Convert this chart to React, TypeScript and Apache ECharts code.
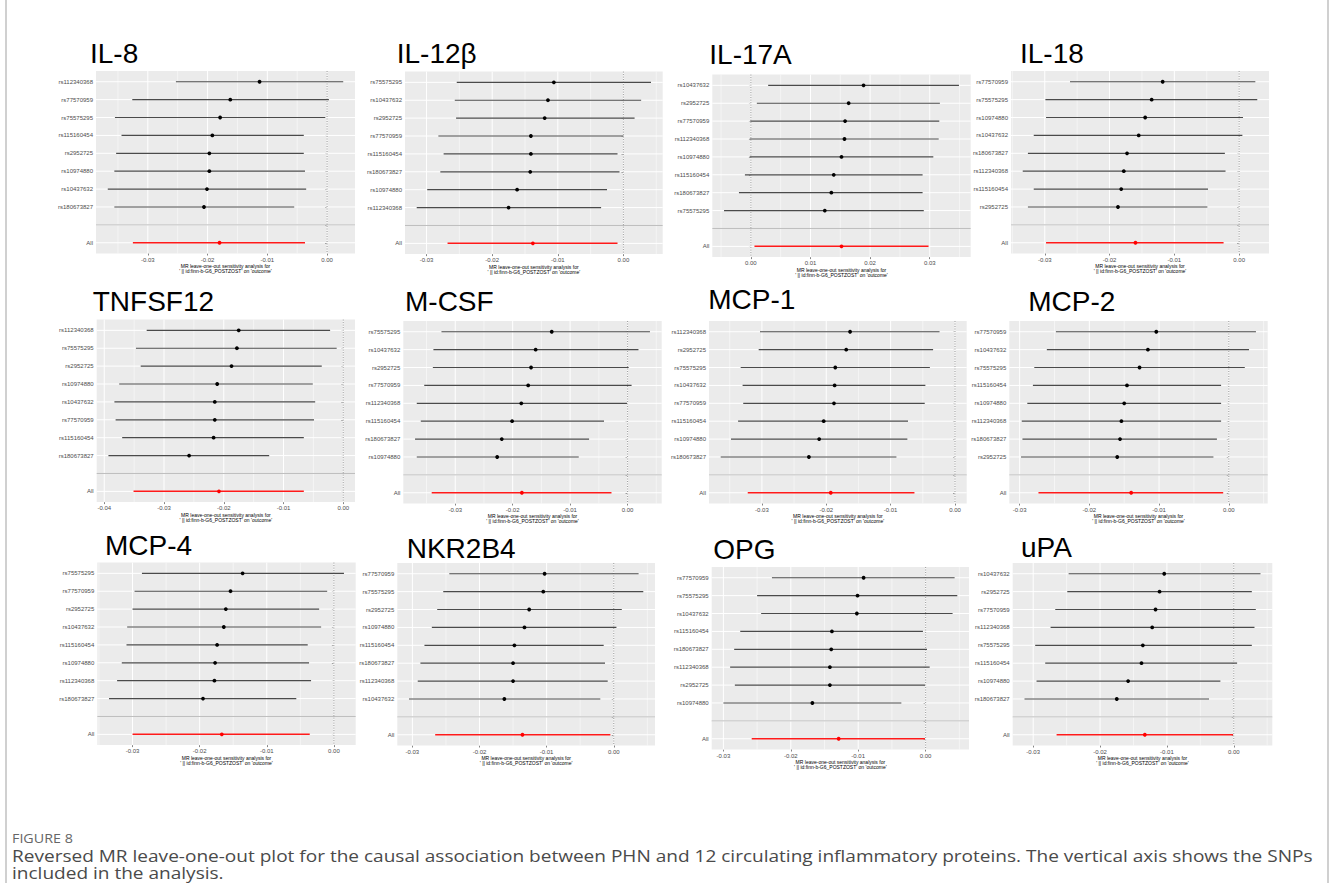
import React, { useEffect, useRef } from "react";
import * as echarts from "echarts";

// ---------------- DATA (rows listed top to bottom; last value = "All") ----------------
const IL8_SNP = ["rs112340368", "rs77570959", "rs75575295", "rs115160454", "rs2952725", "rs10974880", "rs10437632", "rs180673827"];
const IL8_LO = [-0.0253, -0.0326, -0.0355, -0.0344, -0.0353, -0.0356, -0.0367, -0.0356, -0.0325];
const IL8_B = [-0.0113, -0.0162, -0.0179, -0.0192, -0.0197, -0.0197, -0.0201, -0.0206, -0.018];
const IL8_HI = [0.0027, 0.0003, -0.0003, -0.0039, -0.0039, -0.0037, -0.0035, -0.0055, -0.0037];

const IL12_SNP = ["rs75575295", "rs10437632", "rs2952725", "rs77570959", "rs115160454", "rs180673827", "rs10974880", "rs112340368"];
const IL12_LO = [-0.0254, -0.0257, -0.0255, -0.0282, -0.0274, -0.0279, -0.0299, -0.0315, -0.0268];
const IL12_B = [-0.0106, -0.0115, -0.012, -0.0141, -0.0141, -0.0142, -0.0162, -0.0175, -0.0138];
const IL12_HI = [0.0042, 0.0027, 0.0017, 0.0, -0.0009, -0.0006, -0.0025, -0.0034, -0.0009];

const IL17_SNP = ["rs10437632", "rs2952725", "rs77570959", "rs112340368", "rs10974880", "rs115160454", "rs180673827", "rs75575295"];
const IL17_LO = [0.0029, 0.001, -0.0001, -0.0002, -0.0002, -0.001, -0.002, -0.0045, 0.0006];
const IL17_B = [0.0189, 0.0164, 0.0158, 0.0157, 0.0152, 0.0139, 0.0135, 0.0124, 0.0152];
const IL17_HI = [0.0349, 0.0317, 0.0316, 0.0315, 0.0306, 0.0288, 0.0288, 0.029, 0.0298];

const IL18_SNP = ["rs77570959", "rs75575295", "rs10974880", "rs10437632", "rs180673827", "rs112340368", "rs115160454", "rs2952725"];
const IL18_LO = [-0.0261, -0.0299, -0.0298, -0.0317, -0.0326, -0.0334, -0.0317, -0.0326, -0.0298];
const IL18_B = [-0.0118, -0.0135, -0.0145, -0.0155, -0.0173, -0.0178, -0.0182, -0.0187, -0.016];
const IL18_HI = [0.0025, 0.0028, 0.0006, 0.0005, -0.0022, -0.0021, -0.0048, -0.0049, -0.0024];

const TNF_SNP = ["rs112340368", "rs75575295", "rs2952725", "rs10974880", "rs10437632", "rs77570959", "rs115160454", "rs180673827"];
const TNF_LO = [-0.0329, -0.0347, -0.0339, -0.0375, -0.0383, -0.0381, -0.037, -0.0393, -0.0351];
const TNF_B = [-0.0175, -0.0178, -0.0187, -0.0211, -0.0215, -0.0215, -0.0217, -0.0258, -0.0208];
const TNF_HI = [-0.0022, -0.0011, -0.0036, -0.0051, -0.0047, -0.0049, -0.0066, -0.0124, -0.0066];

const MCSF_SNP = ["rs75575295", "rs10437632", "rs2952725", "rs77570959", "rs112340368", "rs115160454", "rs180673827", "rs10974880"];
const MCSF_LO = [-0.0324, -0.0338, -0.0339, -0.0354, -0.0367, -0.036, -0.037, -0.0367, -0.0341];
const MCSF_B = [-0.0132, -0.016, -0.0168, -0.0173, -0.0185, -0.0201, -0.0219, -0.0227, -0.0184];
const MCSF_HI = [0.0039, 0.0019, 0.0002, 0.0007, -0.0001, -0.0041, -0.0067, -0.0085, -0.0028];

const MCP1_SNP = ["rs112340368", "rs2952725", "rs75575295", "rs10437632", "rs77570959", "rs115160454", "rs10974880", "rs180673827"];
const MCP1_LO = [-0.0303, -0.0305, -0.0333, -0.033, -0.0329, -0.0337, -0.0348, -0.0364, -0.0322];
const MCP1_B = [-0.0163, -0.0169, -0.0186, -0.0187, -0.0188, -0.0204, -0.0211, -0.0227, -0.0193];
const MCP1_HI = [-0.0024, -0.0034, -0.0039, -0.0046, -0.0047, -0.0073, -0.0074, -0.0091, -0.0063];

const MCP2_SNP = ["rs77570959", "rs10437632", "rs75575295", "rs115160454", "rs10974880", "rs112340368", "rs180673827", "rs2952725"];
const MCP2_LO = [-0.0248, -0.0261, -0.0279, -0.0281, -0.0289, -0.0297, -0.0296, -0.0298, -0.0273];
const MCP2_B = [-0.0104, -0.0116, -0.0128, -0.0146, -0.015, -0.0154, -0.0156, -0.016, -0.014];
const MCP2_HI = [0.0039, 0.0029, 0.0023, -0.0011, -0.0011, -0.0011, -0.0017, -0.0022, -0.0008];

const MCP4_SNP = ["rs75575295", "rs77570959", "rs2952725", "rs10437632", "rs115160454", "rs10974880", "rs112340368", "rs180673827"];
const MCP4_LO = [-0.0286, -0.0297, -0.03, -0.0308, -0.0309, -0.0316, -0.0323, -0.0335, -0.03];
const MCP4_B = [-0.0136, -0.0154, -0.0161, -0.0164, -0.0174, -0.0177, -0.0178, -0.0195, -0.0167];
const MCP4_HI = [0.0015, -0.001, -0.0022, -0.0019, -0.0039, -0.0037, -0.0034, -0.0056, -0.0036];

const NKR_SNP = ["rs77570959", "rs75575295", "rs2952725", "rs10974880", "rs115160454", "rs180673827", "rs112340368", "rs10437632"];
const NKR_LO = [-0.0245, -0.0254, -0.0263, -0.0271, -0.0282, -0.0288, -0.0292, -0.0305, -0.0266];
const NKR_B = [-0.0103, -0.0105, -0.0126, -0.0133, -0.0148, -0.015, -0.015, -0.0163, -0.0136];
const NKR_HI = [0.0037, 0.0044, 0.0012, 0.0004, -0.0015, -0.0013, -0.0009, -0.002, -0.0005];

const OPG_SNP = ["rs77570959", "rs75575295", "rs10437632", "rs115160454", "rs180673827", "rs112340368", "rs2952725", "rs10974880"];
const OPG_LO = [-0.0228, -0.025, -0.0244, -0.0275, -0.0284, -0.029, -0.0283, -0.03, -0.0258];
const OPG_B = [-0.0092, -0.0101, -0.0102, -0.0139, -0.014, -0.0142, -0.0142, -0.0168, -0.0129];
const OPG_HI = [0.0043, 0.0047, 0.004, -0.0004, 0.0002, 0.0006, -0.0001, -0.0036, -0.0001];

const UPA_SNP = ["rs10437632", "rs2952725", "rs77570959", "rs112340368", "rs75575295", "rs115160454", "rs10974880", "rs180673827"];
const UPA_LO = [-0.0247, -0.0249, -0.0267, -0.0274, -0.0297, -0.0282, -0.0295, -0.0313, -0.0265];
const UPA_B = [-0.0104, -0.0111, -0.0117, -0.0122, -0.0136, -0.0138, -0.0158, -0.0175, -0.0133];
const UPA_HI = [0.004, 0.0027, 0.0033, 0.0031, 0.0027, 0.0005, -0.002, -0.0037, -0.0001];

const TITLES = ["IL-8", "IL-12β", "IL-17A", "IL-18", "TNFSF12", "M-CSF", "MCP-1", "MCP-2", "MCP-4", "NKR2B4", "OPG", "uPA"];
const X_TITLE = "MR leave-one-out sensitivity analysis for\n' || id:finn-b-G6_POSTZOST' on 'outcome'";
const FIG_LABEL = "FIGURE 8";
const CAPTION_1 =
  "Reversed MR leave-one-out plot for the causal association between PHN and 12 circulating inflammatory proteins. The vertical axis shows the SNPs";
const CAPTION_2 = "included in the analysis.";

const PANELS = [
  { snp: IL8_SNP, lo: IL8_LO, b: IL8_B, hi: IL8_HI },
  { snp: IL12_SNP, lo: IL12_LO, b: IL12_B, hi: IL12_HI },
  { snp: IL17_SNP, lo: IL17_LO, b: IL17_B, hi: IL17_HI },
  { snp: IL18_SNP, lo: IL18_LO, b: IL18_B, hi: IL18_HI },
  { snp: TNF_SNP, lo: TNF_LO, b: TNF_B, hi: TNF_HI },
  { snp: MCSF_SNP, lo: MCSF_LO, b: MCSF_B, hi: MCSF_HI },
  { snp: MCP1_SNP, lo: MCP1_LO, b: MCP1_B, hi: MCP1_HI },
  { snp: MCP2_SNP, lo: MCP2_LO, b: MCP2_B, hi: MCP2_HI },
  { snp: MCP4_SNP, lo: MCP4_LO, b: MCP4_B, hi: MCP4_HI },
  { snp: NKR_SNP, lo: NKR_LO, b: NKR_B, hi: NKR_HI },
  { snp: OPG_SNP, lo: OPG_LO, b: OPG_B, hi: OPG_HI },
  { snp: UPA_SNP, lo: UPA_LO, b: UPA_B, hi: UPA_HI },
];

// ---------------- LAYOUT ----------------
// plot panel: left, top, width
const BOX = [
  [96, 71, 259], [405, 71.6, 257.7], [712.3, 74.6, 258.4], [1011, 71, 258],
  [96.7, 319.6, 258.3], [403.3, 321, 258.4], [709, 321, 257.7], [1009.3, 321, 258.4],
  [97.3, 562.6, 258.4], [397.3, 563, 257.7], [711.7, 567, 257.3], [1012.7, 563, 259.6],
];
const PANEL_H = 182.5;
// title left x, baseline y
const TITLE_POS = [
  [90, 63], [396.7, 63], [709.3, 64], [1020, 63],
  [92.7, 311], [405, 311], [708.3, 309.3], [1028.3, 311],
  [105, 555], [406.7, 558.3], [713.3, 559.3], [1021, 557.7],
];

const FONT = "'Liberation Sans', Arial, sans-serif";
const CAP_FONT = "'Open Sans', 'Noto Sans', sans-serif";

function fmt(v: number) {
  if (Math.abs(v) < 1e-9) return "0.00";
  return v.toFixed(2);
}

function buildOption() {
  const grids: any[] = [];
  const xAxes: any[] = [];
  const yAxes: any[] = [];
  const series: any[] = [];
  const ROWS = [1, 2, 3, 4, 5, 6, 7, 8, 9, 10];

  PANELS.forEach((p, i) => {
    const dmin = Math.min(0, ...p.lo);
    const dmax = Math.max(0, ...p.hi);
    const pad = (dmax - dmin) * 0.05;
    const min = dmin - pad;
    const max = dmax + pad;
    const majors: number[] = [];
    for (let k = Math.ceil(min / 0.01 - 1e-9); k <= Math.floor(max / 0.01 + 1e-9); k++) majors.push(+(k * 0.01).toFixed(4));
    const minors: number[] = [];
    for (let k = Math.ceil(min / 0.005 - 1e-9); k <= Math.floor(max / 0.005 + 1e-9); k++) if (k % 2 !== 0) minors.push(+(k * 0.005).toFixed(4));

    const labelMap: Record<number, string> = { 1: "All", 2: "" };
    p.snp.forEach((s, j) => (labelMap[10 - j] = s));

    grids.push({
      left: BOX[i][0],
      top: BOX[i][1],
      width: BOX[i][2],
      height: PANEL_H,
      show: true,
      backgroundColor: "#EBEBEB",
      borderWidth: 0,
      borderColor: "transparent",
    });

    xAxes.push({
      gridIndex: i,
      type: "value",
      min,
      max,
      axisLine: { show: false },
      splitLine: { show: false },
      axisTick: { show: true, length: 2, customValues: majors, lineStyle: { color: "#333333", width: 0.6 } },
      axisLabel: {
        customValues: majors,
        formatter: (v: number) => fmt(v),
        fontSize: 6,
        color: "#4D4D4D",
        margin: 3,
        fontFamily: FONT,
      },
      name: X_TITLE,
      nameLocation: "middle",
      nameGap: 9,
      nameTextStyle: { fontSize: 5, lineHeight: 5, color: "#000", fontFamily: FONT },
    });

    yAxes.push({
      gridIndex: i,
      type: "value",
      min: 0.4,
      max: 10.6,
      axisLine: { show: false },
      splitLine: { show: false },
      axisTick: { show: true, length: 2, customValues: ROWS, lineStyle: { color: "#333333", width: 0.6 } },
      axisLabel: {
        customValues: ROWS,
        formatter: (v: number) => labelMap[Math.round(v)] ?? "",
        fontSize: 6,
        color: "#4D4D4D",
        margin: 3,
        fontFamily: FONT,
      },
    });

    // background grid lines, zero line, separator line
    series.push({
      type: "custom",
      xAxisIndex: i,
      yAxisIndex: i,
      silent: true,
      data: [[0, 5]],
      encode: { x: 0, y: 1 },
      renderItem: (params: any, api: any) => {
        const cs = params.coordSys;
        const children: any[] = [];
        minors.forEach((v) => {
          const px = api.coord([v, 5])[0];
          children.push({ type: "line", shape: { x1: px, y1: cs.y, x2: px, y2: cs.y + cs.height }, style: { stroke: "#FFFFFF", lineWidth: 0.5 } });
        });
        majors.forEach((v) => {
          const px = api.coord([v, 5])[0];
          children.push({ type: "line", shape: { x1: px, y1: cs.y, x2: px, y2: cs.y + cs.height }, style: { stroke: "#FFFFFF", lineWidth: 1 } });
        });
        ROWS.forEach((r) => {
          const py = api.coord([0, r])[1];
          children.push({ type: "line", shape: { x1: cs.x, y1: py, x2: cs.x + cs.width, y2: py }, style: { stroke: "#FFFFFF", lineWidth: 1 } });
        });
        const sepY = api.coord([0, 2])[1];
        children.push({ type: "line", shape: { x1: cs.x, y1: sepY, x2: cs.x + cs.width, y2: sepY }, style: { stroke: "#BEBEBE", lineWidth: 1 } });
        const zx = api.coord([0, 5])[0];
        children.push({
          type: "line",
          shape: { x1: zx, y1: cs.y, x2: zx, y2: cs.y + cs.height },
          style: { stroke: "#555555", lineWidth: 0.6, lineDash: [1, 1.5] },
        });
        return { type: "group", children };
      },
      z: 1,
    });

    // error bars + points
    const rows = p.b.map((b, j) => {
      const isAll = j === p.b.length - 1;
      return [p.lo[j], b, p.hi[j], isAll ? 1 : 10 - j, isAll ? 1 : 0];
    });
    series.push({
      type: "custom",
      xAxisIndex: i,
      yAxisIndex: i,
      silent: true,
      data: rows,
      encode: { x: [0, 1, 2], y: 3 },
      renderItem: (params: any, api: any) => {
        const y = api.value(3);
        const isAll = api.value(4) === 1;
        const a = api.coord([api.value(0), y]);
        const c = api.coord([api.value(2), y]);
        const m = api.coord([api.value(1), y]);
        const col = isAll ? "#FF1A1A" : "#4A4A4A";
        return {
          type: "group",
          children: [
            { type: "line", shape: { x1: a[0], y1: a[1], x2: c[0], y2: c[1] }, style: { stroke: col, lineWidth: isAll ? 1.5 : 1.2 } },
            { type: "circle", shape: { cx: m[0], cy: m[1], r: 1.9 }, style: { fill: isAll ? "#FF0000" : "#000000" } },
          ],
        };
      },
      z: 2,
    });
  });

  const graphics: any[] = [];
  TITLES.forEach((t, i) => {
    graphics.push({
      type: "text",
      x: TITLE_POS[i][0],
      y: TITLE_POS[i][1] - 10,
      style: { text: t, fontSize: 28, fontFamily: FONT, fill: "#000", align: "left", verticalAlign: "middle" },
      silent: true,
    });
  });
  graphics.push({ type: "rect", shape: { x: 5, y: 0, width: 2, height: 883 }, style: { fill: "#D0D0D0" }, silent: true });
  graphics.push({ type: "rect", shape: { x: 1327, y: 0, width: 2, height: 883 }, style: { fill: "#D0D0D0" }, silent: true });
  graphics.push({
    type: "text",
    x: 12,
    y: 838,
    scaleX: 1.1,
    style: { text: FIG_LABEL, fontSize: 13, lineHeight: 14, fontFamily: CAP_FONT, fill: "#666666", align: "left", verticalAlign: "middle" },
    silent: true,
  });
  graphics.push({
    type: "text",
    x: 12,
    y: 856,
    scaleX: 1.19,
    style: { text: CAPTION_1, fontSize: 16, lineHeight: 17, fontFamily: CAP_FONT, fill: "#4A4A4A", align: "left", verticalAlign: "middle" },
    silent: true,
  });
  graphics.push({
    type: "text",
    x: 12,
    y: 873,
    scaleX: 1.19,
    style: { text: CAPTION_2, fontSize: 16, lineHeight: 17, fontFamily: CAP_FONT, fill: "#4A4A4A", align: "left", verticalAlign: "middle" },
    silent: true,
  });

  return {
    animation: false,
    backgroundColor: "#FFFFFF",
    grid: grids,
    xAxis: xAxes,
    yAxis: yAxes,
    series,
    graphic: { elements: graphics },
  };
}

export default function App() {
  const ref = useRef<HTMLDivElement>(null);
  useEffect(() => {
    if (!ref.current) return;
    const chart = echarts.init(ref.current, undefined, { renderer: "svg" });
    chart.setOption(buildOption() as any);
    return () => chart.dispose();
  }, []);
  return <div ref={ref} style={{ position: "fixed", left: 0, top: 0, width: 1330, height: 883 }} />;
}
